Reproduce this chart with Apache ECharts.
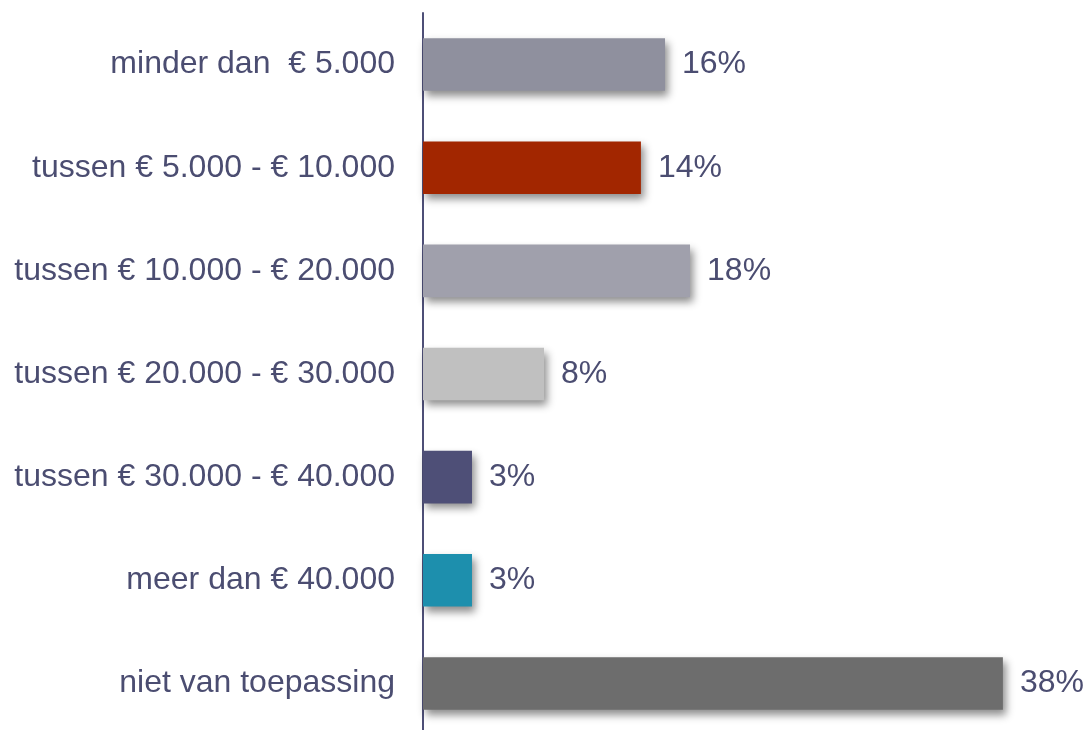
<!DOCTYPE html>
<html>
<head>
<meta charset="utf-8">
<script src="https://cdn.jsdelivr.net/npm/echarts@6/dist/echarts.min.js"></script>
<style>
html,body{margin:0;padding:0;background:#fff;}
#chart{width:1084px;height:730px;}
</style>
</head>
<body>
<div id="chart"></div>
<script>
var categories = ['minder dan  € 5.000', 'tussen € 5.000 - € 10.000', 'tussen € 10.000 - € 20.000', 'tussen € 20.000 - € 30.000', 'tussen € 30.000 - € 40.000', 'meer dan € 40.000', 'niet van toepassing'];
var values = [15.86, 14.28, 17.5, 7.93, 3.21, 3.21, 38];
var valueLabels = ['16%', '14%', '18%', '8%', '3%', '3%', '38%'];
var barColors = ['#8F909E', '#A22600', '#A0A0AC', '#C0C0C0', '#4E4F77', '#1D8FAD', '#6D6D6D'];

var textColor = '#4B4D71';
var fontFam = '"Liberation Sans", Arial, sans-serif';
var chart = echarts.init(document.getElementById('chart'), null, {renderer: 'canvas'});
chart.setOption({
  animation: false,
  grid: {left: 423, top: 13, width: 610.4, height: 722, containLabel: false, outerBoundsMode: 'none'},
  xAxis: {
    type: 'value', min: 0, max: 40, show: false
  },
  yAxis: {
    type: 'category', data: categories, inverse: true,
    axisLine: {show: true, lineStyle: {color: '#4E4F77', width: 2}},
    axisTick: {show: false},
    axisLabel: {color: textColor, fontSize: 32, fontFamily: fontFam, margin: 28}
  },
  series: [{
    type: 'bar',
    barCategoryGap: '49%',
    data: values.map(function (v, i) {
      return {value: v, itemStyle: {color: barColors[i]}};
    }),
    itemStyle: {
      shadowColor: 'rgba(0,0,0,0.45)', shadowBlur: 8, shadowOffsetX: 3, shadowOffsetY: 5
    },
    label: {
      show: true, position: 'right', distance: 17,
      color: textColor, fontSize: 32, fontFamily: fontFam,
      formatter: function (p) { return valueLabels[p.dataIndex]; }
    }
  }]
});
</script>
</body>
</html>
